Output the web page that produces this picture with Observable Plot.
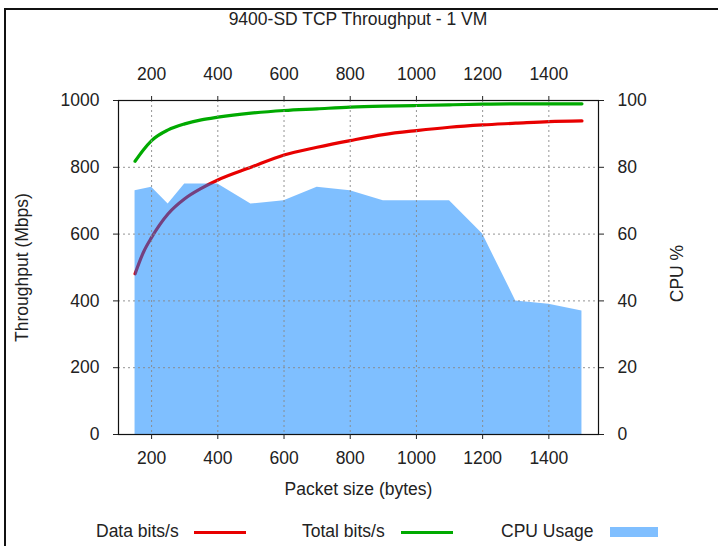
<!DOCTYPE html>
<html>
<head>
<meta charset="utf-8">
<script src="https://cdn.jsdelivr.net/npm/d3@7"></script>
<script src="https://cdn.jsdelivr.net/npm/@observablehq/plot@0.6"></script>
<style>
  html, body { margin: 0; padding: 0; background: #fff; width: 718px; height: 546px; overflow: hidden; }
  body { position: relative; font-family: "Liberation Sans", Arial, sans-serif; color: #222; }
  #frame { position: absolute; left: 4px; top: 8px; width: 900px; height: 900px; border-left: 2px solid #111; border-top: 2px solid #111; }
  #chart { position: absolute; left: 0; top: 0; }
  #title { position: absolute; left: 0; width: 716px; top: 9px; text-align: center; font-size: 17.5px; }
  .leg { position: absolute; top: 521px; font-size: 17.5px; white-space: nowrap; }
  .sw { position: absolute; }
</style>
</head>
<body>
<div id="frame"></div>
<div id="chart"></div>
<div id="title">9400-SD TCP Throughput - 1 VM</div>
<div id="legend"></div>
<script>
// ---- data ----
const lineSizes = [150, 175, 200, 250, 300, 350, 400, 500, 600, 700, 800, 900, 1000, 1100, 1200, 1300, 1400, 1500];
const dataBits  = [481, 545, 590, 661, 706, 737, 762, 800, 837, 860, 880, 898, 910, 920, 927, 932, 937, 939];
const totalBits = [818, 852, 880, 912, 930, 942, 950, 962, 970, 975, 980, 983, 985, 987, 989, 990, 990, 990];

const cpuSizes = [150, 200, 250, 300, 400, 500, 600, 700, 800, 900, 1000, 1100, 1200, 1300, 1400, 1500];
const cpuUsage = [73, 74, 69, 75, 75, 69, 70, 74, 73, 70, 70, 70, 60, 40, 39, 37];

const xTicks = [200, 400, 600, 800, 1000, 1200, 1400];
const yTicks = [0, 200, 400, 600, 800, 1000];
const cpuTicks = [0, 20, 40, 60, 80, 100];
const gridYTicks = [200, 400, 600, 800];

const seriesNames = ["Data bits/s", "Total bits/s", "CPU Usage"];
const seriesColors = ["#e80000", "#00aa00", "#0080ff"];

// ---- tables built from arrays ----
const lineData = lineSizes.map((s, i) => ({size: s, data: dataBits[i], total: totalBits[i]}));
const cpuData = cpuSizes.map((s, i) => ({size: s, cpu: cpuUsage[i]}));
const cpuToY = v => v * 10; // CPU % 0–100 shares the 0–1000 vertical scale

const fontSize = "17.5px";
const plain = d => String(d);

const chart = Plot.plot({
  width: 718,
  height: 546,
  marginLeft: 118,
  marginRight: 120,
  marginTop: 100,
  marginBottom: 112,
  style: {fontFamily: "'Liberation Sans', Arial, sans-serif", fontSize, color: "#222", background: "transparent", overflow: "visible"},
  x: {domain: [100, 1550]},
  y: {domain: [0, 1000]},
  marks: [
    Plot.lineY(lineData, {x: "size", y: "data", stroke: seriesColors[0], strokeWidth: 3.2, curve: "monotone-x"}),
    Plot.lineY(lineData, {x: "size", y: "total", stroke: seriesColors[1], strokeWidth: 3.2, curve: "monotone-x"}),
    Plot.areaY(cpuData, {x: "size", y: d => cpuToY(d.cpu), fill: seriesColors[2], fillOpacity: 0.5}),
    Plot.gridX(xTicks, {stroke: "#888", strokeOpacity: 0.9, strokeDasharray: "2,3"}),
    Plot.gridY(gridYTicks, {stroke: "#888", strokeOpacity: 0.9, strokeDasharray: "2,3"}),
    Plot.frame({stroke: "#111", strokeWidth: 1.2}),
    Plot.axisX(xTicks, {anchor: "bottom", tickSize: 5, tickPadding: 12, label: null, tickFormat: plain, fontSize}),
    Plot.axisX(xTicks, {anchor: "top", tickSize: 5, tickPadding: 16, label: null, tickFormat: plain, fontSize}),
    Plot.axisY(yTicks, {anchor: "left", tickSize: 5, tickPadding: 14, label: null, tickFormat: plain, fontSize}),
    Plot.axisY(cpuTicks.map(cpuToY), {anchor: "right", tickSize: 5, tickPadding: 14, label: null, tickFormat: d => String(d / 10), fontSize}),
    Plot.text(["Throughput (Mbps)"], {frameAnchor: "left", text: d => d, rotate: -90, textAnchor: "middle", lineAnchor: "middle", dx: -96, fontSize}),
    Plot.text(["CPU %"], {frameAnchor: "right", text: d => d, rotate: -90, textAnchor: "middle", lineAnchor: "middle", dx: 79, dy: 6, fontSize}),
    Plot.text(["Packet size (bytes)"], {frameAnchor: "bottom", text: d => d, textAnchor: "middle", lineAnchor: "middle", dy: 55, fontSize})
  ]
});
document.getElementById("chart").appendChild(chart);

// ---- legend ----
const legend = document.getElementById("legend");
const legendItems = [
  {text: seriesNames[0], tx: 96, sx: 194, sw: 52, kind: "line", color: seriesColors[0]},
  {text: seriesNames[1], tx: 302, sx: 401, sw: 52, kind: "line", color: seriesColors[1]},
  {text: seriesNames[2], tx: 501, sx: 610, sw: 48, kind: "box", color: "#80bfff"}
];
legendItems.forEach(it => {
  const t = document.createElement("div");
  t.className = "leg";
  t.style.left = it.tx + "px";
  t.textContent = it.text;
  legend.appendChild(t);
  const s = document.createElement("div");
  s.className = "sw";
  s.style.left = it.sx + "px";
  s.style.width = it.sw + "px";
  s.style.background = it.color;
  if (it.kind === "line") { s.style.top = "531px"; s.style.height = "3px"; }
  else { s.style.top = "527px"; s.style.height = "10px"; }
  legend.appendChild(s);
});
</script>
</body>
</html>
